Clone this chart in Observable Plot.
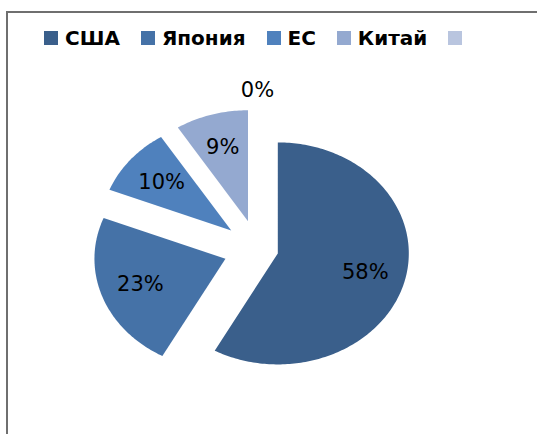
<!DOCTYPE html>
<html><head><meta charset="utf-8">
<script src="https://cdn.jsdelivr.net/npm/d3@7"></script>
<script src="https://cdn.jsdelivr.net/npm/@observablehq/plot@0.6"></script>
<style>
html,body{margin:0;padding:0;background:#fff;width:537px;height:434px;overflow:hidden;}
#wrap{position:relative;width:537px;height:434px;}
#frame{position:absolute;left:6px;top:11px;width:700px;height:700px;border-left:2px solid #6f6f6f;border-top:2px solid #6f6f6f;}
#chart{position:absolute;left:0;top:0;}
#legend{position:absolute;left:44px;top:21px;}
#legend .lg-swatches{font-family:"DejaVu Sans",sans-serif;font-weight:bold;font-size:20px;color:#000;margin:0;display:flex;align-items:center;flex-wrap:nowrap;gap:0;}
#legend .lg-swatch{display:inline-flex;align-items:center;margin-right:21px;white-space:nowrap;}
#legend .lg-swatch > svg{margin-right:7px;}
</style>
</head><body>
<div id="wrap"><div id="frame"></div><div id="chart"></div><div id="legend"></div></div>
<script>
const categories = ["США", "Япония", "ЕС", "Китай", ""];
const values = [58, 23, 10, 9, 0];
const labels = ["58%", "23%", "10%", "9%", "0%"];
const colors = ["#3A5F8B", "#4572A7", "#4F81BD", "#94A9D0", "#B9C5DF"];
const explode = [0.16, 0.26, 0.26, 0.26, 0.26];

const arcs = d3.pie().sort(null).value(d => d)(values);
const points = [];
const labelData = [];
arcs.forEach((a, i) => {
  const mid = (a.startAngle + a.endAngle) / 2;
  const ox = explode[i] * Math.sin(mid), oy = -explode[i] * Math.cos(mid);
  if (a.endAngle > a.startAngle) {
    points.push({name: categories[i], k: i, x: ox, y: oy});
    const n = Math.max(2, Math.ceil((a.endAngle - a.startAngle) / (Math.PI / 180)));
    for (let j = 0; j <= n; j++) {
      const t = a.startAngle + (a.endAngle - a.startAngle) * j / n;
      points.push({name: categories[i], k: i, x: ox + Math.sin(t), y: oy - Math.cos(t)});
    }
  }
  const f = values[i] > 0 ? 0.69 : 1.17;
  labelData.push({text: labels[i], x: ox + f * Math.sin(mid), y: oy - f * Math.cos(mid)});
});

const chart = Plot.plot({
  width: 537, height: 434, margin: 0,
  x: {domain: [-1, 1], range: [126, 388], axis: null},
  y: {domain: [-1, 1], range: [137.5, 359.5], axis: null},
  color: {domain: categories, range: colors},
  style: {background: "transparent", fontFamily: "DejaVu Sans, sans-serif"},
  marks: [
    Plot.line(points, {x: "x", y: "y", z: "k", fill: "name", stroke: "none"}),
    Plot.text(labelData, {x: "x", y: "y", text: "text", fontSize: 21, fill: "#000"})
  ]
});
document.getElementById("chart").appendChild(chart);

const legend = Plot.legend({
  color: {domain: categories, range: colors},
  legend: "swatches", swatchSize: 14, className: "lg"
});
document.getElementById("legend").appendChild(legend);
</script>
</body></html>
